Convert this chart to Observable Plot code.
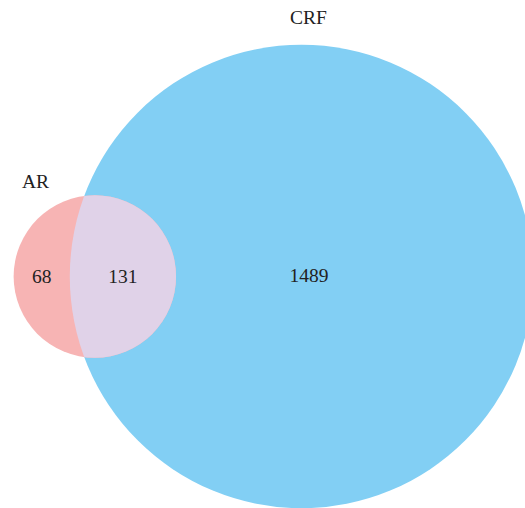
<!DOCTYPE html>
<html><head><meta charset="utf-8">
<script src="https://cdn.jsdelivr.net/npm/d3@7"></script>
<script src="https://cdn.jsdelivr.net/npm/@observablehq/plot@0.6"></script>
<style>html,body{margin:0;padding:0;background:#fff;overflow:hidden}</style>
</head><body><div id="chart"></div>
<script>
// ---- data ----
const setNames = ["AR", "CRF"];
const regionLabels = ["AR only", "AR ∩ CRF", "CRF only"];
const regionCounts = [68, 131, 1489];
const setColors = ["#F7B4B4", "#82CFF4"];
const overlapColor = "#E0D2E8";

// ---- area-proportional layout (pixel units) ----
const W = 525, H = 508;
const unit = 5.757;                 // radius per sqrt(count)
const totals = [regionCounts[0] + regionCounts[1], regionCounts[2] + regionCounts[1]];
const radii = totals.map(t => unit * Math.sqrt(t));
function lensArea(r1, r2, d) {
  const a = r1*r1*Math.acos((d*d + r1*r1 - r2*r2)/(2*d*r1));
  const b = r2*r2*Math.acos((d*d + r2*r2 - r1*r1)/(2*d*r2));
  const c = 0.5*Math.sqrt((-d+r1+r2)*(d+r1-r2)*(d-r1+r2)*(d+r1+r2));
  return a + b - c;
}
const target = Math.PI * unit * unit * regionCounts[1];
let lo = Math.abs(radii[1]-radii[0]) + 1e-6, hi = radii[0] + radii[1] - 1e-6;
for (let i = 0; i < 80; i++) {
  const mid = (lo + hi)/2;
  if (lensArea(radii[0], radii[1], mid) > target) lo = mid; else hi = mid;
}
const dist = (lo + hi)/2;
const cy = 276, cxBig = 301, cxSmall = cxBig - dist;

const circles = [
  {set: setNames[1], x: cxBig, y: cy, r: radii[1], fill: setColors[1]},
  {set: setNames[0], x: cxSmall, y: cy, r: radii[0], fill: setColors[0]}
];
const smallLeft = cxSmall - radii[0], smallRight = cxSmall + radii[0], bigLeft = cxBig - radii[1];
const numbers = [
  {label: regionCounts[0], x: (smallLeft + bigLeft)/2, y: cy},
  {label: regionCounts[1], x: (bigLeft + smallRight)/2, y: cy},
  {label: regionCounts[2], x: cxBig + 7.5, y: cy - 1}
];
const names = [
  {label: setNames[0], x: 35, y: 181},
  {label: setNames[1], x: 308, y: 17}
];

const font = "Liberation Serif";
const chart = Plot.plot({
  width: W, height: H, margin: 0,
  style: {background: "#fff"},
  x: {domain: [0, W], range: [0, W], axis: null},
  y: {domain: [0, H], range: [0, H], axis: null},
  r: {type: "linear", domain: [0, 1000], range: [0, 1000]},
  color: {type: "identity"},
  marks: [
    Plot.dot(circles, {x: "x", y: "y", r: "r", fill: "fill", stroke: null, sort: null}),
    Plot.dot([circles[1]], {x: "x", y: "y", r: "r", fill: overlapColor, stroke: null}),
    Plot.text(numbers, {x: "x", y: "y", text: d => String(d.label), fontFamily: font, fontSize: 19.5, fill: "#222"}),
    Plot.text(names, {x: "x", y: "y", text: "label", fontFamily: font, fontSize: 19.5, fill: "#222"})
  ]
});
// clip the overlap layer to the CRF circle
const sx = chart.scale("x"), sy = chart.scale("y"), sr = chart.scale("r");
const svg = d3.select(chart);
svg.insert("defs", ":first-child").append("clipPath").attr("id", "crfclip")
  .append("circle").attr("cx", sx.apply(cxBig)).attr("cy", sy.apply(cy)).attr("r", sr.apply(radii[1]));
const dotGroups = chart.querySelectorAll('g[aria-label="dot"]');
d3.select(dotGroups[1]).attr("clip-path", "url(#crfclip)");
document.getElementById("chart").appendChild(chart);
</script>
</body></html>
